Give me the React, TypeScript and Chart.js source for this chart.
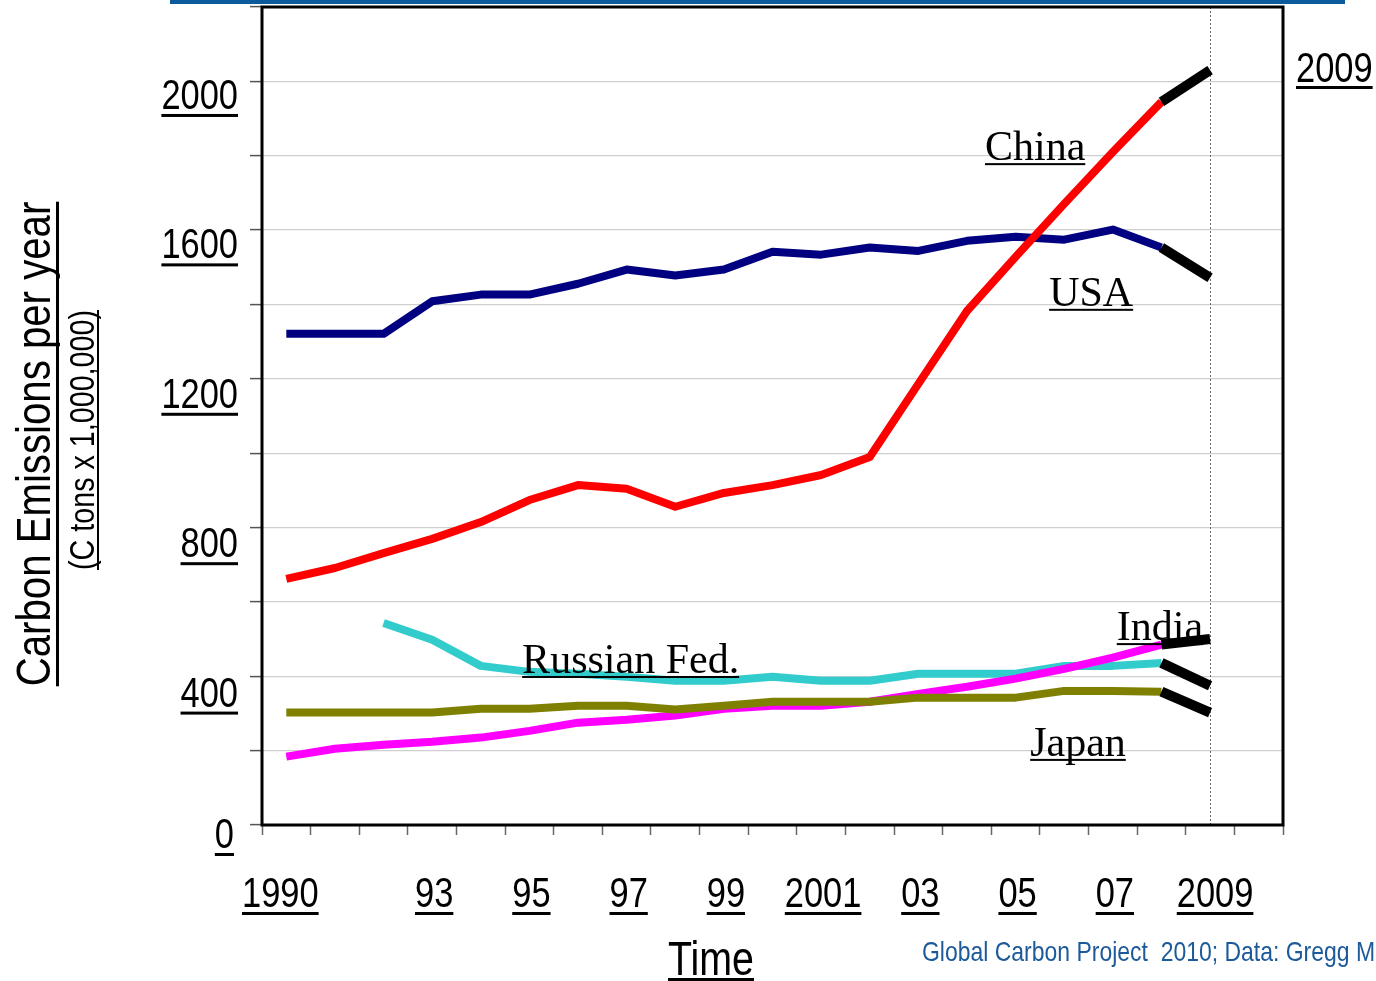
import { useEffect, useRef } from "react";
import { Chart, registerables } from "chart.js";

Chart.register(...registerables);

// ---------- data ----------
const YEARS = [
  "1990", "1991", "1992", "1993", "1994", "1995", "1996", "1997", "1998", "1999",
  "2000", "2001", "2002", "2003", "2004", "2005", "2006", "2007", "2008", "2009", "2010",
];

const CHINA = [659, 688, 728, 766, 811, 870, 910, 900, 852, 889, 910, 937, 985, 1181, 1376, 1521, 1663, 1802, 1936, 2021];
const USA = [1315, 1315, 1315, 1402, 1420, 1420, 1449, 1487, 1471, 1487, 1535, 1527, 1546, 1537, 1564, 1575, 1567, 1594, 1546, 1465];
const RUSSIA = [null, null, 541, 496, 426, 410, 405, 397, 386, 386, 397, 386, 386, 405, 405, 405, 426, 426, 434, 373];
const JAPAN = [301, 301, 301, 301, 311, 311, 319, 319, 309, 319, 330, 330, 330, 341, 341, 341, 359, 359, 357, 301];
const INDIA = [183, 204, 215, 223, 234, 252, 274, 282, 293, 311, 319, 319, 330, 351, 370, 392, 418, 448, 483, 498];

const X_TICK_YEARS = ["1990", "1993", "1995", "1997", "1999", "2001", "2003", "2005", "2007", "2009"];
const X_TICK_TEXT = ["1990", "93", "95", "97", "99", "2001", "03", "05", "07", "2009"];
const Y_TICK_VALUES = [0, 400, 800, 1200, 1600, 2000];

const SERIES_NAMES = ["China", "USA", "India", "Russian Fed.", "Japan"];
const SERIES_LABEL_YEAR = [14.37, 15.69, 17.08, 4.85, 15.3]; // category index (left edge of label)
const SERIES_LABEL_VALUE = [1780, 1390, 495, 407, 185]; // baseline value

const LAST_FROM = 18; // 2008 -> 2009 segment drawn in black

// ---------- styles ----------
const SANS = '"Liberation Sans", Arial, sans-serif';
const SERIF = '"Liberation Serif", "Times New Roman", serif';
const NARROW = 0.82;

function underlined(
  ctx: CanvasRenderingContext2D,
  text: string,
  x: number,
  y: number,
  align: "left" | "center" | "right",
  font: string,
  color: string,
  gap: number,
  thick: number,
  sx = 1
) {
  ctx.save();
  ctx.font = font;
  ctx.fillStyle = color;
  ctx.textAlign = "left";
  ctx.textBaseline = "alphabetic";
  const w = ctx.measureText(text).width * sx;
  const x0 = align === "center" ? x - w / 2 : align === "right" ? x - w : x;
  ctx.translate(x0, y);
  ctx.scale(sx, 1);
  ctx.fillText(text, 0, 0);
  ctx.restore();
  ctx.save();
  ctx.fillStyle = color;
  ctx.fillRect(x0, y + gap, w, thick);
  ctx.restore();
}

const decorPlugin = {
  id: "decor",
  beforeDatasetsDraw(chart: any) {
    const { ctx, chartArea: a, scales } = chart;
    const px = Math.round(scales.x.getPixelForValue(19)) + 0.5;
    ctx.save();
    ctx.strokeStyle = "#666666";
    ctx.lineWidth = 1;
    ctx.setLineDash([2, 2]);
    ctx.beginPath();
    ctx.moveTo(px, a.top);
    ctx.lineTo(px, a.bottom);
    ctx.stroke();
    ctx.restore();
  },
  afterDatasetsDraw(chart: any) {
    const { ctx, chartArea: a } = chart;
    ctx.save();
    ctx.strokeStyle = "#000000";
    ctx.lineWidth = 3;
    ctx.strokeRect(a.left, a.top, a.right - a.left, a.bottom - a.top);
    ctx.restore();
  },
  afterDraw(chart: any) {
    const { ctx, chartArea: a, scales } = chart;
    const xs = scales.x;
    const ys = scales.y;
    ctx.save();

    // top blue rule
    ctx.fillStyle = "#0b5a9c";
    ctx.fillRect(170, 0, 1175, 4);

    // y tick labels
    Y_TICK_VALUES.forEach((v) => {
      const y = ys.getPixelForValue(v) + (v === 0 ? 23 : 31);
      underlined(ctx, String(v), a.left - 24 - (v === 0 ? 4 : 0), y, "right", `42px ${SANS}`, "#000", 5, 3, NARROW);
    });

    // x tick labels
    X_TICK_YEARS.forEach((yr, i) => {
      const idx = YEARS.indexOf(yr);
      const x = xs.getPixelForValue(idx);
      const nudge = idx === 0 ? -6 : idx === YEARS.length - 2 ? 5 : 2;
      underlined(ctx, X_TICK_TEXT[i], x + nudge, a.bottom + 82, "center", `42px ${SANS}`, "#000", 5, 3, NARROW);
    });

    // top-right 2009
    underlined(ctx, "2009", a.right + 13, 82, "left", `42px ${SANS}`, "#000", 4, 3, NARROW);

    // series labels
    SERIES_NAMES.forEach((name, i) => {
      const x = xs.getPixelForValue(SERIES_LABEL_YEAR[i]);
      const y = ys.getPixelForValue(SERIES_LABEL_VALUE[i]);
      underlined(ctx, name, x, y, "left", `42px ${SERIF}`, "#000", 3, 2);
    });

    // axis titles
    underlined(ctx, "Time", 711, 975, "center", `48px ${SANS}`, "#000", 3, 3, NARROW);

    ctx.save();
    ctx.translate(50, 444);
    ctx.rotate(-Math.PI / 2);
    underlined(ctx, "Carbon Emissions per year", 0, 0, "center", `49px ${SANS}`, "#000", 6, 3, NARROW);
    ctx.restore();

    ctx.save();
    ctx.translate(94, 440);
    ctx.rotate(-Math.PI / 2);
    underlined(ctx, "(C tons x 1,000,000)", 0, 0, "center", `35px ${SANS}`, "#000", 3, 2, NARROW);
    ctx.restore();

    // credit
    ctx.save();
    ctx.font = `28px ${SANS}`;
    ctx.fillStyle = "#1c5a9a";
    ctx.textAlign = "left";
    ctx.textBaseline = "alphabetic";
    ctx.translate(922, 961);
    ctx.scale(NARROW, 1);
    ctx.fillText("Global Carbon Project  2010; Data: Gregg M", 0, 0);
    ctx.restore();

    ctx.restore();
  },
};

function lineDs(label: string, data: (number | null)[], color: string, order: number) {
  return {
    label,
    data,
    borderColor: color,
    backgroundColor: color,
    borderWidth: 8,
    pointRadius: 0,
    tension: 0,
    spanGaps: false,
    borderCapStyle: "butt" as const,
    borderJoinStyle: "round" as const,
    order,
  };
}

function tailDs(label: string, data: (number | null)[]) {
  return {
    label,
    data: data.map((v, i) => (i >= LAST_FROM ? v : null)),
    borderColor: "#000000",
    backgroundColor: "#000000",
    borderWidth: 10,
    pointRadius: 0,
    tension: 0,
    borderCapStyle: "butt" as const,
    order: 0,
  };
}

export default function App() {
  const canvasRef = useRef<HTMLCanvasElement | null>(null);

  useEffect(() => {
    document.body.style.margin = "0";
    const canvas = canvasRef.current;
    if (!canvas) return;
    const colored = [
      lineDs("China", CHINA.map((v, i) => (i <= LAST_FROM ? v : null)), "#ff0000", 1),
      lineDs("USA", USA.map((v, i) => (i <= LAST_FROM ? v : null)), "#000080", 2),
      lineDs("Japan", JAPAN.map((v, i) => (i <= LAST_FROM ? v : null)), "#808000", 3),
      lineDs("India", INDIA.map((v, i) => (i <= LAST_FROM ? v : null)), "#ff00ff", 4),
      lineDs("Russian Fed.", RUSSIA.map((v, i) => (i <= LAST_FROM ? v : null)), "#33cccc", 5),
    ];
    const tails = [
      tailDs("China 2009", CHINA),
      tailDs("USA 2009", USA),
      tailDs("Japan 2009", JAPAN),
      tailDs("India 2009", INDIA),
      tailDs("Russian Fed. 2009", RUSSIA),
    ];
    const chart = new Chart(canvas, {
      type: "line",
      data: { labels: YEARS, datasets: [...tails, ...colored] as any },
      options: {
        responsive: false,
        animation: false,
        events: [],
        layout: { padding: { left: 250, top: 7, right: 93, bottom: 146 } },
        plugins: { legend: { display: false }, tooltip: { enabled: false } },
        scales: {
          x: {
            type: "category",
            offset: true,
            grid: {
              display: true,
              offset: true,
              drawOnChartArea: false,
              drawTicks: true,
              tickLength: 10,
              tickColor: "#666666",
              tickWidth: 1.5,
            },
            border: { display: false },
            ticks: { display: false },
            afterFit: (s: any) => {
              s.height = 10;
            },
          },
          y: {
            min: 0,
            max: 2190,
            grid: {
              color: "#cfcfcf",
              lineWidth: 1.2,
              tickColor: "#555555",
              tickLength: 12,
              tickWidth: 1.5,
            },
            border: { display: false },
            ticks: { display: false, stepSize: 200, includeBounds: false },
            afterFit: (s: any) => {
              s.width = 12;
            },
          },
        },
      },
      plugins: [decorPlugin],
    });
    return () => chart.destroy();
  }, []);

  return (
    <div style={{ position: "absolute", left: 0, top: 0, width: 1376, height: 981, background: "#fff" }}>
      <canvas ref={canvasRef} width={1376} height={981} style={{ display: "block" }} />
    </div>
  );
}
